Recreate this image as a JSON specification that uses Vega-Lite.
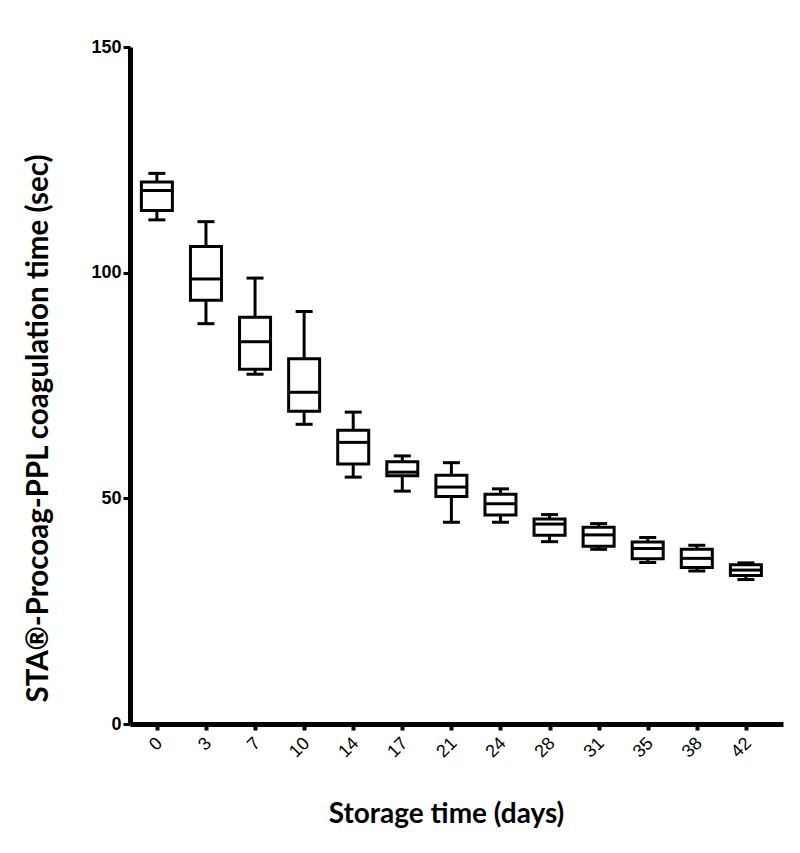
{
  "$schema": "https://vega.github.io/schema/vega-lite/v6.json",
  "autosize": "none",
  "width": 653,
  "height": 677,
  "padding": {"left": 130, "top": 47, "right": 17, "bottom": 129},
  "background": "white",
  "config": {"view": {"stroke": null}, "axis": {"grid": false}},
  "data": {"values": [
    {"day": "0", "min": 111.7, "q1": 113.8, "median": 118.2, "q3": 120.1, "max": 122.0},
    {"day": "3", "min": 88.7, "q1": 93.9, "median": 98.6, "q3": 105.8, "max": 111.3},
    {"day": "7", "min": 77.5, "q1": 78.6, "median": 84.7, "q3": 90.1, "max": 98.8},
    {"day": "10", "min": 66.4, "q1": 69.3, "median": 73.5, "q3": 80.9, "max": 91.4},
    {"day": "14", "min": 54.7, "q1": 57.6, "median": 62.4, "q3": 65.1, "max": 69.1},
    {"day": "17", "min": 51.6, "q1": 55.0, "median": 55.8, "q3": 58.1, "max": 59.4},
    {"day": "21", "min": 44.7, "q1": 50.4, "median": 52.5, "q3": 55.1, "max": 57.9},
    {"day": "24", "min": 44.7, "q1": 46.3, "median": 48.8, "q3": 50.9, "max": 52.1},
    {"day": "28", "min": 40.4, "q1": 41.8, "median": 44.3, "q3": 45.4, "max": 46.4},
    {"day": "31", "min": 38.7, "q1": 39.4, "median": 41.9, "q3": 43.6, "max": 44.4},
    {"day": "35", "min": 35.8, "q1": 36.6, "median": 38.9, "q3": 40.3, "max": 41.3},
    {"day": "38", "min": 33.9, "q1": 34.7, "median": 36.7, "q3": 38.7, "max": 39.6},
    {"day": "42", "min": 32.0, "q1": 32.9, "median": 34.1, "q3": 35.3, "max": 35.7}
  ]},
  "encoding": {
    "x": {
      "field": "day", "type": "ordinal", "sort": null,
      "scale": {"type": "point", "padding": 0.652, "align": 0.42},
      "axis": {
        "title": "Storage time (days)",
        "titleFont": "Lato", "titleFontSize": 28, "titleFontWeight": "bold", "titleColor": "black",
        "titleX": 316, "titleAlign": "center", "titleY": 90, "titleBaseline": "middle",
        "labelAngle": -45, "labelFont": "Liberation Sans", "labelFontSize": 18, "labelColor": "black",
        "labelPadding": 4, "labelOffset": -4,
        "domainColor": "black", "domainWidth": 5,
        "tickColor": "black", "tickWidth": 4, "tickSize": 6
      }
    }
  },
  "layer": [
    {
      "mark": {"type": "rule", "color": "black", "strokeWidth": 3},
      "encoding": {
        "y": {"field": "min", "type": "quantitative",
          "scale": {"domain": [0, 150], "nice": false},
          "axis": {
            "title": "STA®-Procoag-PPL coagulation time (sec)",
            "titleFont": "Lato", "titleFontSize": 29.5, "titleFontWeight": "bold", "titleColor": "black",
            "titleX": -92, "titleY": 381, "titleBaseline": "middle", "titleAlign": "center", "titleAngle": -90,
            "values": [0, 50, 100, 150],
            "labelFont": "Liberation Sans", "labelFontSize": 18, "labelFontWeight": "bold", "labelColor": "black",
            "labelPadding": 2,
            "domainColor": "black", "domainWidth": 5,
            "tickColor": "black", "tickWidth": 3, "tickSize": 7
          }
        },
        "y2": {"field": "max"}
      }
    },
    {
      "mark": {"type": "bar", "fill": "white", "stroke": "black", "strokeWidth": 3, "size": 31},
      "encoding": {
        "y": {"field": "q1", "type": "quantitative"},
        "y2": {"field": "q3"}
      }
    },
    {
      "mark": {"type": "tick", "color": "black", "opacity": 1, "thickness": 3, "size": 31},
      "encoding": {"y": {"field": "median", "type": "quantitative"}}
    },
    {
      "mark": {"type": "tick", "color": "black", "opacity": 1, "thickness": 3, "size": 17},
      "encoding": {"y": {"field": "min", "type": "quantitative"}}
    },
    {
      "mark": {"type": "tick", "color": "black", "opacity": 1, "thickness": 3, "size": 17},
      "encoding": {"y": {"field": "max", "type": "quantitative"}}
    }
  ]
}
